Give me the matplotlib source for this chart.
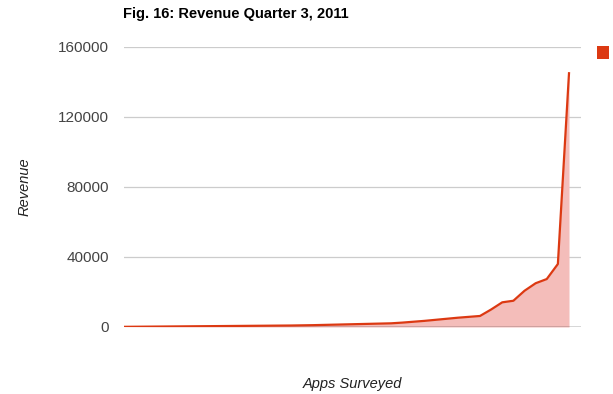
"""
Fig. 16 - Revenue Quarter 3, 2011
Revenue per surveyed app, sorted ascending, as a filled line chart
"""
import matplotlib
matplotlib.use('Agg')
import matplotlib.pyplot as plt
import matplotlib.patches as mpatches
import numpy as np

# Revenue per app (sorted), read in order of the survey ranking
revenue = [100, 150, 200, 250, 300, 350, 400, 450, 500, 550,
           600, 650, 700, 750, 800, 850, 950, 1050, 1200, 1350,
           1500, 1650, 1800, 1950, 2100, 2500, 3000, 3500, 4100, 4700,
           5300, 5800, 6300, 10000, 14100, 15000, 20700, 25000, 27400, 36000,
           145000]
apps = np.arange(len(revenue))
y_ticks = [0, 40000, 80000, 120000, 160000]

LINE = '#DC3912'
FILL = '#F4BDBA'

plt.rcParams['font.family'] = ['Liberation Sans', 'DejaVu Sans']

fig = plt.figure(figsize=(6.13, 3.94), dpi=100)
W, H = 613, 394
left, right, top, bottom = 124, 581, 47, 327
ax = fig.add_axes([left / W, (H - bottom) / H, (right - left) / W, (bottom - top) / H])

ax.fill_between(apps, revenue, 0, color=FILL, linewidth=0, zorder=1)
ax.plot(apps, revenue, color=LINE, linewidth=1.6, solid_joinstyle='round', zorder=3)

ax.set_xlim(0, len(revenue) - 1 + 12 / 11.125)
ax.set_ylim(0, 160000)

ax.set_yticks(y_ticks)
ax.set_yticklabels([str(v) for v in y_ticks], fontsize=11, color='#444444')
ax.tick_params(axis='y', length=0, pad=11)
ax.set_xticks([])

for v in y_ticks[1:]:
    ax.axhline(v, color='#cccccc', linewidth=0.9, zorder=0)
ax.axhline(0, color='#333333', linewidth=1.0, zorder=2)

for s in ax.spines.values():
    s.set_visible(False)

ax.set_ylabel('Revenue', fontsize=10.5, style='italic', color='#222222', labelpad=19)
ax.set_xlabel('Apps Surveyed', fontsize=10.5, style='italic', color='#222222', labelpad=36)

fig.text(123 / W, 1 - 14 / H, 'Fig. 16: Revenue Quarter 3, 2011', fontsize=10.5,
         fontweight='bold', color='#000000', ha='left', va='center')

# Legend swatch (series has no name)
fig.add_artist(mpatches.Rectangle((597 / W, 1 - 59 / H), 12 / W, 13 / H,
                                  transform=fig.transFigure, facecolor=LINE,
                                  edgecolor='none'))

fig.savefig('out.png', dpi=100, facecolor='white')
